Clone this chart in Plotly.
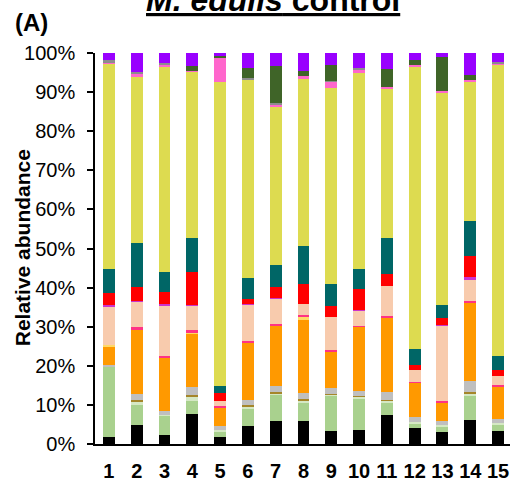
import plotly.graph_objects as go

samples = [str(i) for i in range(1, 16)]

black = [1.8, 4.9, 2.4, 7.7, 1.8, 4.5, 5.9, 5.8, 3.2, 3.5, 7.3, 4.1, 3.1, 6.2, 3.4]
light_green = [17.9, 5.1, 4.8, 3.4, 1.5, 4.4, 6.7, 4.7, 9.2, 8.2, 3.2, 1.1, 1.4, 6.0, 1.5]
pale_green = [0.0, 0.9, 0.3, 1.0, 0.3, 0.7, 0.4, 0.6, 0.3, 0.4, 0.5, 0.4, 0.3, 0.6, 0.4]
olive = [0.0, 0.3, 0.0, 0.4, 0.0, 0.4, 0.3, 0.4, 0.2, 0.3, 0.2, 0.0, 0.0, 0.5, 0.0]
gray = [0.6, 1.6, 0.9, 2.2, 1.0, 1.3, 1.5, 1.5, 1.3, 1.2, 2.1, 1.3, 1.0, 2.9, 1.1]
orange = [4.6, 16.4, 13.7, 13.6, 4.7, 14.6, 15.6, 18.6, 9.4, 16.4, 18.9, 8.7, 4.7, 20.0, 8.3]
light_yellow = [0.3, 0.0, 0.0, 0.2, 0.0, 0.0, 0.0, 0.9, 0.0, 0.0, 0.0, 0.0, 0.0, 0.0, 0.0]
hot_pink = [0.0, 0.6, 0.4, 0.6, 0.3, 0.4, 0.4, 0.4, 0.4, 0.3, 0.6, 0.3, 0.4, 0.4, 0.4]
peach = [10.0, 6.6, 12.8, 6.2, 1.4, 9.3, 6.3, 2.9, 8.4, 3.8, 7.7, 2.9, 19.4, 5.5, 2.4]
magenta = [0.3, 0.2, 0.4, 0.3, 0.0, 0.3, 0.3, 0.0, 0.0, 0.3, 0.0, 0.0, 0.2, 0.5, 0.0]
red = [3.0, 3.5, 3.3, 8.5, 2.1, 1.1, 2.7, 5.1, 2.8, 5.2, 2.9, 1.4, 1.6, 5.5, 1.3]
teal = [6.2, 11.3, 5.0, 8.7, 1.7, 5.4, 5.6, 9.7, 5.7, 5.2, 9.2, 4.1, 3.4, 9.0, 3.7]
yellow_green = [52.6, 42.5, 52.6, 42.4, 77.8, 50.8, 40.5, 43.0, 50.2, 50.2, 38.1, 72.3, 54.4, 35.5, 74.5]
pink = [0.3, 0.9, 0.4, 0.3, 6.2, 0.0, 0.6, 0.4, 1.5, 0.9, 0.6, 0.4, 0.4, 0.4, 0.4]
gray_line = [0.5, 0.3, 0.4, 0.0, 0.0, 0.3, 0.3, 0.0, 0.3, 0.3, 0.0, 0.0, 0.0, 0.0, 0.3]
dark_green = [0.0, 0.0, 0.0, 1.3, 0.5, 2.7, 9.6, 1.3, 4.0, 0.0, 4.5, 1.3, 8.7, 1.3, 0.0]
purple = [2.0, 4.9, 2.6, 3.2, 0.7, 3.8, 3.3, 4.7, 3.1, 3.8, 4.2, 1.7, 1.0, 5.7, 2.3]

series = [
    ("black", black, "#000000"),
    ("light green", light_green, "#A9D18E"),
    ("pale green", pale_green, "#D5E8C4"),
    ("olive", olive, "#A5862A"),
    ("gray", gray, "#BFBFBF"),
    ("orange", orange, "#FF9900"),
    ("light yellow", light_yellow, "#FFD966"),
    ("hot pink", hot_pink, "#FF3385"),
    ("peach", peach, "#F8CBAD"),
    ("magenta", magenta, "#CC33CC"),
    ("red", red, "#FF0000"),
    ("teal", teal, "#006666"),
    ("yellow green", yellow_green, "#DDDB50"),
    ("pink", pink, "#FF66CC"),
    ("gray line", gray_line, "#8C8C8C"),
    ("dark green", dark_green, "#3F6428"),
    ("purple", purple, "#9900FF"),
]

FONT = "Arial, Liberation Sans, sans-serif"

fig = go.Figure()
for name, vals, col in series:
    fig.add_trace(go.Bar(x=samples, y=vals, name=name, marker=dict(color=col, line=dict(width=0)),
                         showlegend=False))

fig.update_layout(
    barmode="stack",
    bargap=0.57,
    width=510, height=483,
    margin=dict(l=95, r=0, t=53, b=39),
    paper_bgcolor="white", plot_bgcolor="white",
    font=dict(family=FONT, color="black"),
)
fig.update_xaxes(
    type="category", range=[-0.5, 14.43],
    showline=True, linecolor="black", linewidth=1.5,
    ticks="", tickfont=dict(size=20, family=FONT, weight="bold"),
    ticklabelstandoff=8,
)
fig.update_yaxes(
    range=[0, 100], tickvals=[0, 10, 20, 30, 40, 50, 60, 70, 80, 90, 100],
    ticktext=[f"{v}%" for v in [0, 10, 20, 30, 40, 50, 60, 70, 80, 90, 100]],
    showline=True, linecolor="black", linewidth=1.5,
    ticks="outside", ticklen=6, tickwidth=1.5, tickcolor="black",
    tickfont=dict(size=20, family=FONT), showgrid=False, zeroline=False,
    ticklabelstandoff=8,
)

fig.add_annotation(text="<u><b><i>M. edulis</i> control</b></u>", xref="paper", yref="paper",
                   x=0.43, y=1.135, xanchor="center", yanchor="middle", showarrow=False,
                   font=dict(size=32, family=FONT, color="black"))
fig.add_annotation(text="<b>(A)</b>", xref="paper", yref="paper",
                   x=-0.152, y=1.078, xanchor="center", yanchor="middle", showarrow=False,
                   font=dict(size=24, family=FONT, color="black"))
fig.add_annotation(text="<b>Relative abundance</b>", xref="paper", yref="paper",
                   x=-0.176, y=0.503, xanchor="center", yanchor="middle", showarrow=False,
                   textangle=-90, font=dict(size=21, family=FONT, color="black"))

fig.write_html("out.html", config={"displayModeBar": False},
               post_script="document.body.style.margin='0';document.body.style.overflow='hidden';")
